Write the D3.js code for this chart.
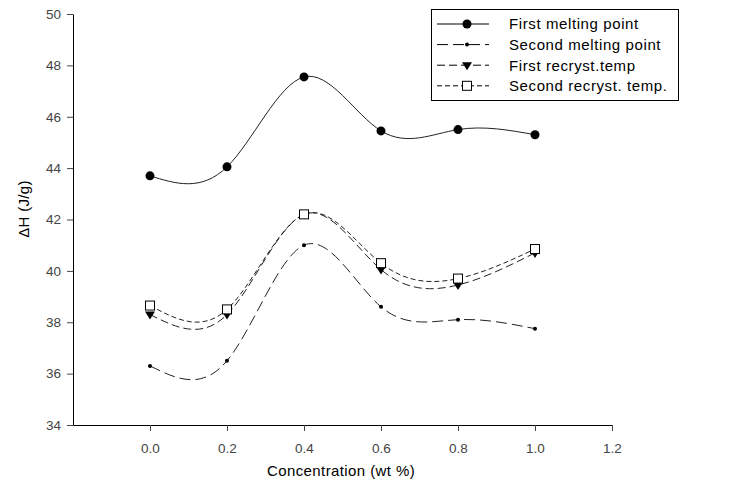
<!DOCTYPE html>
<html>
<head>
<meta charset="utf-8">
<script src="https://cdn.jsdelivr.net/npm/d3@7"></script>
<style>
  body { margin: 0; background: #fff; }
  text { font-family: "Liberation Sans", Arial, sans-serif; }
</style>
</head>
<body>
<div class="report"></div>
<script>
// concentration (wt %)
var conc = [0.0, 0.2, 0.4, 0.6, 0.8, 1.0];
var firstMelting = [43.7, 44.05, 47.55, 45.45, 45.5, 45.3];
var secondMelting = [36.3, 36.5, 41.0, 38.6, 38.1, 37.75];
var firstRecryst = [38.3, 38.3, 42.2, 40.05, 39.45, 40.7];
var secondRecryst = [38.65, 38.5, 42.2, 40.3, 39.7, 40.85];
var seriesNames = ["First melting point", "Second melting point", "First recryst.temp", "Second recryst. temp."];
var xTicks = [0.0, 0.2, 0.4, 0.6, 0.8, 1.0, 1.2];
var yTicks = [34, 36, 38, 40, 42, 44, 46, 48, 50];

var series = [
  {name: seriesNames[0], values: firstMelting, dash: null, marker: "circle"},
  {name: seriesNames[1], values: secondMelting, dash: "11,5", marker: "dot"},
  {name: seriesNames[2], values: firstRecryst, dash: "8,4", marker: "triangle"},
  {name: seriesNames[3], values: secondRecryst, dash: "5,3", marker: "square"}
];

var width = 751, height = 481;
var svg = d3.select(".report").append("svg")
    .attr("width", width).attr("height", height);

var x = d3.scaleLinear().domain([-0.2, 1.2]).range([73, 612]);
var y = d3.scaleLinear().domain([34, 50]).range([425, 14]);

// axes
var xAxis = svg.append("g")
    .attr("transform", "translate(0," + y(34) + ")")
    .call(d3.axisBottom(x).tickValues(xTicks).tickFormat(d3.format(".1f")).tickSize(6).tickSizeOuter(0));
var yAxis = svg.append("g")
    .attr("transform", "translate(" + x(-0.2) + ",0)")
    .call(d3.axisLeft(y).tickValues(yTicks).tickSize(6).tickSizeOuter(0));

[xAxis, yAxis].forEach(function (a) {
    a.select(".domain").attr("stroke", "#000").attr("stroke-width", 1);
    a.selectAll(".tick line").attr("stroke", "#444");
    a.selectAll(".tick text").attr("fill", "#444").style("font-size", "13.5px")
        .style("font-family", "'Liberation Sans', Arial, sans-serif");
});
xAxis.selectAll(".tick text").attr("dy", "1.38em");
yAxis.selectAll(".tick text").attr("x", -12);

svg.append("text")
    .attr("x", 341).attr("y", 476)
    .attr("text-anchor", "middle")
    .style("font-size", "15px")
    .style("letter-spacing", "0.4px")
    .text("Concentration (wt %)");

svg.append("text")
    .attr("transform", "translate(29,209) rotate(-90)")
    .attr("text-anchor", "middle")
    .style("font-size", "15px")
    .style("letter-spacing", "0.3px")
    .text("\u0394H (J/g)");

var line = d3.line()
    .x(function (d) { return x(d[0]); })
    .y(function (d) { return y(d[1]); })
    .curve(d3.curveNatural);

function drawMarker(g, type, cx, cy) {
    if (type === "circle") {
        g.append("circle").attr("cx", cx).attr("cy", cy).attr("r", 4.5).attr("fill", "#000");
    } else if (type === "dot") {
        g.append("circle").attr("cx", cx).attr("cy", cy).attr("r", 2).attr("fill", "#000");
    } else if (type === "triangle") {
        g.append("path")
            .attr("d", "M" + (cx - 5) + "," + (cy - 3) + "L" + (cx + 5) + "," + (cy - 3) + "L" + cx + "," + (cy + 5) + "Z")
            .attr("fill", "#000");
    } else if (type === "square") {
        g.append("rect").attr("x", cx - 4.5).attr("y", cy - 4.5).attr("width", 9).attr("height", 9)
            .attr("fill", "#fff").attr("stroke", "#000").attr("stroke-width", 1);
    }
}

series.forEach(function (s) {
    var pts = conc.map(function (c, i) { return [c, s.values[i]]; });
    svg.append("path")
        .datum(pts)
        .attr("d", line)
        .attr("fill", "none")
        .attr("stroke", "#222")
        .attr("stroke-width", 1)
        .attr("stroke-dasharray", s.dash);
});
series.forEach(function (s) {
    var g = svg.append("g");
    conc.forEach(function (c, i) { drawMarker(g, s.marker, x(c), y(s.values[i])); });
});

// legend
var legend = svg.append("g");
legend.append("rect")
    .attr("x", 431.5).attr("y", 9.5).attr("width", 247).attr("height", 91)
    .attr("fill", "#fff").attr("stroke", "#000");
series.forEach(function (s, i) {
    var ly = 24 + i * 20.6;
    legend.append("line")
        .attr("x1", 437).attr("x2", 489).attr("y1", ly).attr("y2", ly)
        .attr("stroke", "#000").attr("stroke-dasharray", s.dash);
    drawMarker(legend, s.marker, 467, ly);
    legend.append("text")
        .attr("x", 509).attr("y", ly).attr("dy", "0.36em")
        .style("font-size", "15px")
        .style("letter-spacing", "0.6px")
        .text(s.name);
});
</script>
</body>
</html>
